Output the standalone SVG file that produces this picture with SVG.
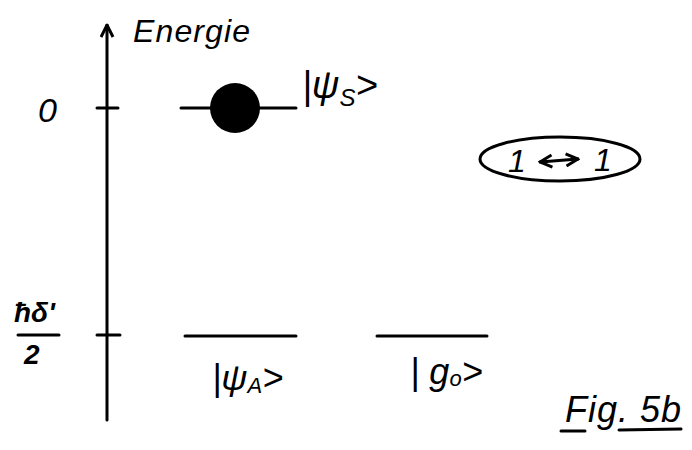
<svg xmlns="http://www.w3.org/2000/svg" width="692" height="450" viewBox="0 0 692 450">
<style>
.ln{stroke:#000;stroke-width:3;stroke-linecap:round;fill:none}
.t{font-family:"Liberation Sans",Arial,sans-serif;font-style:italic;fill:#000}
</style>
<defs>
<marker id="ah" viewBox="0 0 10 10" refX="9" refY="5" markerWidth="5" markerHeight="5" orient="auto-start-reverse">
<path d="M1,1 L9,5 L1,9" fill="none" stroke="#000" stroke-width="2"/>
</marker>
</defs>
<rect width="692" height="450" fill="#fff"/>
<g id="connectors">
<line class="ln" x1="107" y1="420" x2="107" y2="25" marker-end="url(#ah)"/>
<line class="ln" x1="97" y1="108" x2="118" y2="108"/>
<line class="ln" x1="97" y1="335" x2="120" y2="335"/>
</g>
<g id="axis-labels">
<text class="t" x="133" y="42" font-size="32" textLength="117">Energie</text>
<text class="t" x="38" y="122" font-size="34">0</text>
<text class="t" x="14" y="322" font-size="28" font-weight="bold">ħδ'</text>
<line class="ln" x1="18" y1="335" x2="59" y2="335"/>
<text class="t" x="24" y="364" font-size="28" font-weight="bold">2</text>
</g>
<g id="psiS">
<line class="ln" x1="181" y1="108" x2="296" y2="108"/>
<circle cx="235" cy="108" r="25" fill="#000"/>
<text class="t" x="302" y="98" font-size="38">|ψ<tspan font-size="24" dy="8">S</tspan><tspan dy="-8">&gt;</tspan></text>
</g>
<g id="psiA">
<line class="ln" x1="185" y1="336" x2="296" y2="336"/>
<text class="t" x="212" y="390" font-size="36">|ψ<tspan font-size="22" dy="3">A</tspan><tspan dy="-3">&gt;</tspan></text>
</g>
<g id="g0">
<line class="ln" x1="377" y1="336" x2="487" y2="336"/>
<text class="t" x="410" y="384" font-size="36">| g<tspan font-size="22" dy="2">o</tspan><tspan dy="-2">&gt;</tspan></text>
</g>
<g id="coupling">
<ellipse cx="560" cy="159" rx="80" ry="22" class="ln"/>
<text class="t" x="508" y="172" font-size="32">1</text>
<line class="ln" x1="540" y1="162" x2="578" y2="159" marker-start="url(#ah)" marker-end="url(#ah)"/>
<text class="t" x="594" y="171" font-size="32">1</text>
</g>
<g id="caption">
<text class="t" x="565" y="422" font-size="36" textLength="116">Fig. 5b</text>
<line class="ln" x1="561" y1="431" x2="585" y2="431"/>
<line class="ln" x1="619" y1="430" x2="681" y2="429"/>
</g>
</svg>
